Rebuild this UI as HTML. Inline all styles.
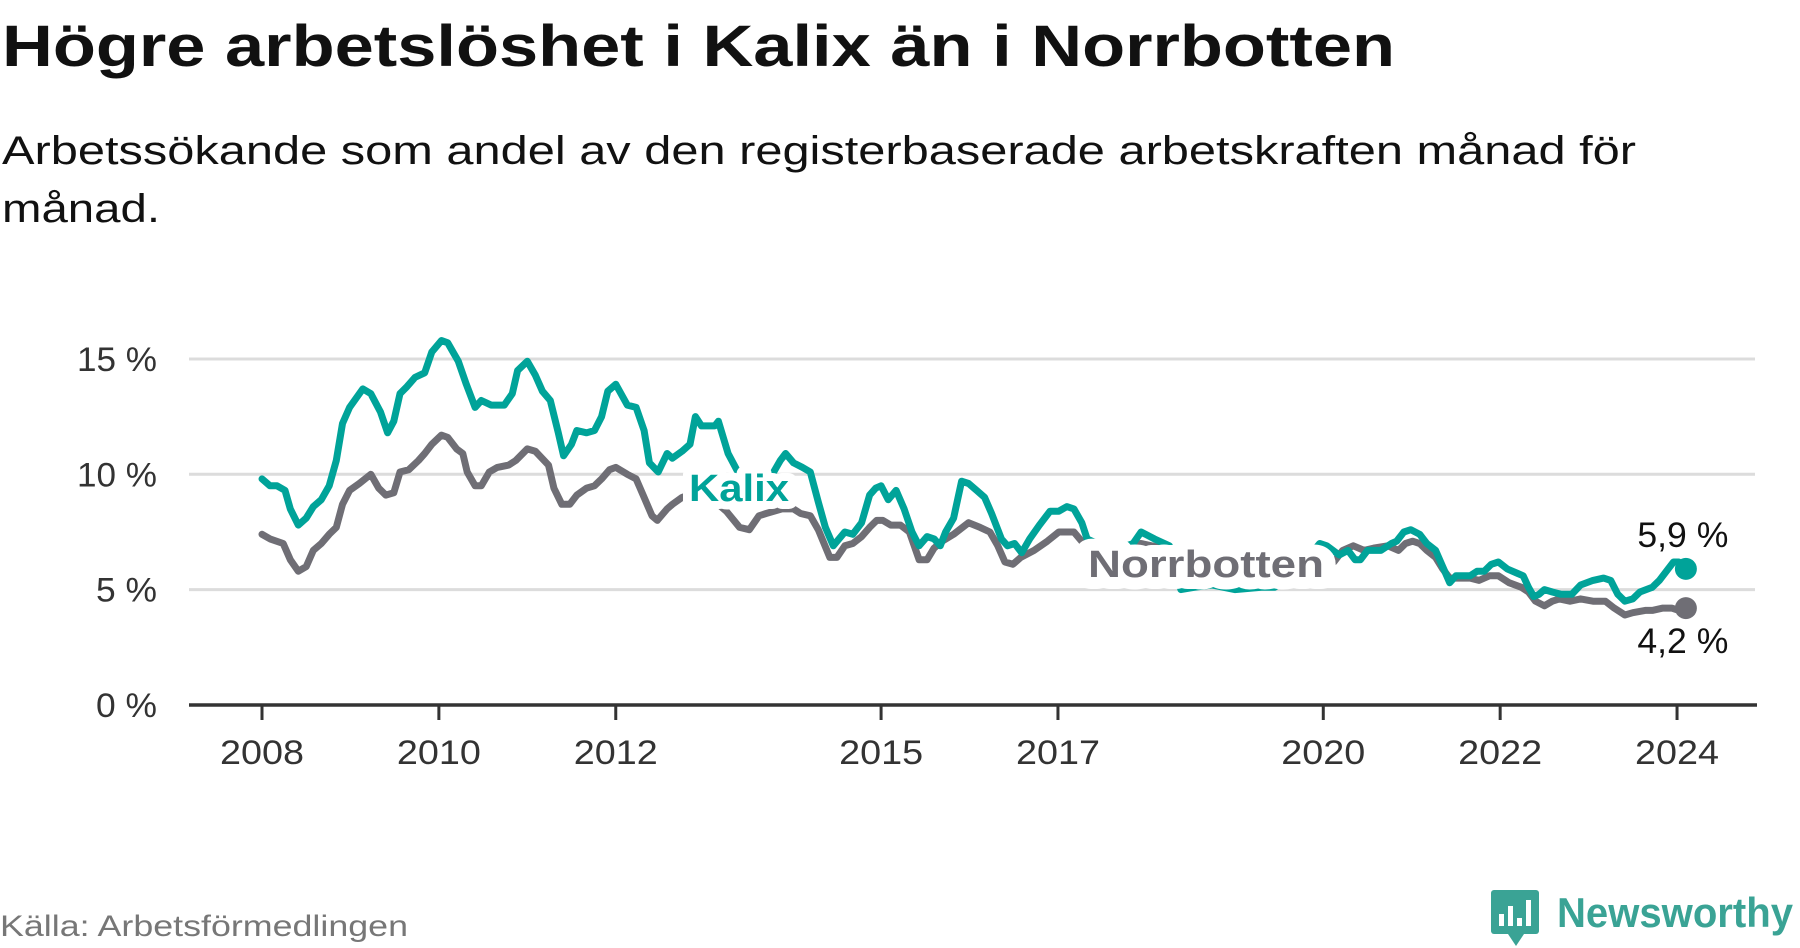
<!DOCTYPE html>
<html><head><meta charset="utf-8"><style>
html,body{margin:0;padding:0;background:#fff;}
svg{display:block;font-family:"Liberation Sans",sans-serif;}
</style></head><body>
<svg id="chart" width="1800" height="948" viewBox="0 0 1800 948" xmlns="http://www.w3.org/2000/svg">
<text x="2" y="66" font-size="58" font-weight="bold" fill="#111" textLength="1393" lengthAdjust="spacingAndGlyphs">Högre arbetslöshet i Kalix än i Norrbotten</text>
<text x="2" y="164" font-size="40" fill="#111" textLength="1634" lengthAdjust="spacingAndGlyphs">Arbetssökande som andel av den registerbaserade arbetskraften månad för</text>
<text x="2" y="222" font-size="40" fill="#111" textLength="158" lengthAdjust="spacingAndGlyphs">månad.</text>
<g id="grid"></g>
<g id="yticks"></g>
<g id="xticks"></g>
<g id="lines"></g>
<g id="labels"></g>
<text x="0" y="936" font-size="30" fill="#777" textLength="408" lengthAdjust="spacingAndGlyphs">Källa: Arbetsförmedlingen</text>
<g>
<rect x="1491" y="890" width="48" height="44" rx="3" fill="#3aa395"/>
<polygon points="1508,934 1524,934 1516,946" fill="#3aa395"/>
<rect x="1499" y="914" width="5" height="12" fill="#fff"/>
<rect x="1508" y="906" width="5" height="20" fill="#fff"/>
<rect x="1517" y="918" width="5" height="8" fill="#fff"/>
<rect x="1526" y="900" width="5" height="26" fill="#fff"/>
<text x="1557" y="927" font-size="42" font-weight="bold" fill="#3aa395" textLength="236" lengthAdjust="spacingAndGlyphs">Newsworthy</text>
</g>
</svg>
<script>
const yTicks = [0, 5, 10, 15];
const yTickLabels = ["0 %", "5 %", "10 %", "15 %"];
const xTicks = [2008, 2010, 2012, 2015, 2017, 2020, 2022, 2024];
const kalixDates = [2008.0,2008.09,2008.17,2008.26,2008.32,2008.41,2008.50,2008.58,2008.67,2008.76,2008.84,2008.91,2008.99,2009.14,2009.23,2009.34,2009.42,2009.49,2009.56,2009.64,2009.73,2009.84,2009.92,2010.03,2010.10,2010.22,2010.31,2010.41,2010.48,2010.59,2010.74,2010.83,2010.89,2011.00,2011.09,2011.17,2011.26,2011.35,2011.41,2011.50,2011.56,2011.67,2011.76,2011.84,2011.91,2012.00,2012.13,2012.23,2012.32,2012.38,2012.48,2012.58,2012.64,2012.75,2012.84,2012.90,2012.97,2013.12,2013.16,2013.27,2013.45,2013.65,2013.86,2013.92,2014.01,2014.11,2014.20,2014.29,2014.37,2014.46,2014.59,2014.68,2014.78,2014.87,2014.94,2015.00,2015.08,2015.17,2015.26,2015.35,2015.43,2015.52,2015.60,2015.67,2015.73,2015.82,2015.91,2015.99,2016.08,2016.17,2016.25,2016.36,2016.43,2016.51,2016.59,2016.68,2016.79,2016.91,2017.01,2017.10,2017.18,2017.27,2017.33,2017.5,2017.7,2017.85,2017.94,2018.09,2018.26,2018.39,2018.54,2018.74,2019.0,2019.30,2019.45,2019.7,2019.96,2020.04,2020.18,2020.28,2020.36,2020.42,2020.50,2020.65,2020.77,2020.83,2020.91,2020.99,2021.09,2021.17,2021.27,2021.35,2021.43,2021.50,2021.66,2021.74,2021.82,2021.90,2021.98,2022.08,2022.20,2022.26,2022.32,2022.38,2022.44,2022.50,2022.59,2022.69,2022.81,2022.91,2023.05,2023.17,2023.25,2023.33,2023.41,2023.50,2023.58,2023.72,2023.80,2023.90,2023.96,2024.02,2024.10];
const kalixValues = [9.8,9.5,9.5,9.3,8.5,7.8,8.1,8.6,8.9,9.5,10.6,12.2,12.9,13.7,13.5,12.7,11.8,12.3,13.5,13.8,14.2,14.4,15.3,15.8,15.7,14.9,13.9,12.9,13.2,13.0,13.0,13.5,14.5,14.9,14.3,13.6,13.2,11.8,10.8,11.3,11.9,11.8,11.9,12.5,13.6,13.9,13.0,12.9,11.9,10.5,10.1,10.9,10.7,11.0,11.3,12.5,12.1,12.1,12.3,10.9,9.6,9.2,10.6,10.9,10.5,10.3,10.1,8.8,7.7,6.9,7.5,7.4,7.9,9.1,9.4,9.5,8.9,9.3,8.5,7.5,6.9,7.3,7.2,6.9,7.5,8.1,9.7,9.6,9.3,9.0,8.3,7.2,6.9,7.0,6.6,7.2,7.8,8.4,8.4,8.6,8.5,7.9,7.2,6.9,6.8,7.0,7.5,7.2,6.9,5.0,5.1,5.2,5.0,5.1,5.1,5.8,7.0,6.9,6.5,6.7,6.3,6.3,6.7,6.7,7.0,7.1,7.5,7.6,7.4,7.0,6.7,6.0,5.3,5.6,5.6,5.8,5.8,6.1,6.2,5.9,5.7,5.6,5.1,4.7,4.8,5.0,4.9,4.8,4.8,5.2,5.4,5.5,5.4,4.8,4.5,4.6,4.9,5.1,5.4,5.9,6.2,6.2,5.9];
const norrDates = [2008.0,2008.09,2008.24,2008.32,2008.41,2008.50,2008.58,2008.67,2008.76,2008.84,2008.91,2008.99,2009.10,2009.23,2009.32,2009.40,2009.49,2009.56,2009.66,2009.77,2009.84,2009.92,2010.03,2010.10,2010.20,2010.27,2010.32,2010.41,2010.48,2010.57,2010.66,2010.79,2010.87,2011.00,2011.09,2011.24,2011.30,2011.39,2011.48,2011.56,2011.67,2011.76,2011.84,2011.93,2012.00,2012.13,2012.23,2012.32,2012.41,2012.47,2012.58,2012.64,2012.75,2012.9,2013.1,2013.25,2013.40,2013.51,2013.62,2013.70,2013.88,2014.01,2014.09,2014.20,2014.29,2014.42,2014.50,2014.59,2014.68,2014.78,2014.87,2014.95,2015.02,2015.11,2015.22,2015.32,2015.43,2015.52,2015.60,2015.69,2015.82,2015.99,2016.12,2016.23,2016.32,2016.40,2016.49,2016.58,2016.73,2016.88,2017.01,2017.18,2017.29,2017.5,2017.8,2017.94,2018.3,2018.6,2018.9,2019.2,2019.5,2019.8,2020.12,2020.22,2020.34,2020.46,2020.57,2020.73,2020.85,2020.93,2021.01,2021.09,2021.17,2021.27,2021.35,2021.43,2021.56,2021.66,2021.76,2021.88,2021.98,2022.10,2022.24,2022.32,2022.40,2022.50,2022.59,2022.67,2022.79,2022.91,2023.05,2023.19,2023.29,2023.41,2023.50,2023.64,2023.72,2023.84,2023.94,2024.02,2024.10];
const norrValues = [7.4,7.2,7.0,6.3,5.8,6.0,6.7,7.0,7.4,7.7,8.7,9.3,9.6,10.0,9.4,9.1,9.2,10.1,10.2,10.6,10.9,11.3,11.7,11.6,11.1,10.9,10.1,9.5,9.5,10.1,10.3,10.4,10.6,11.1,11.0,10.4,9.4,8.7,8.7,9.1,9.4,9.5,9.8,10.2,10.3,10.0,9.8,9.0,8.2,8.0,8.5,8.7,9.0,9.2,8.9,8.4,7.7,7.6,8.2,8.3,8.5,8.5,8.3,8.2,7.6,6.4,6.4,6.9,7.0,7.3,7.7,8.0,8.0,7.8,7.8,7.5,6.3,6.3,6.8,7.1,7.4,7.9,7.7,7.5,6.9,6.2,6.1,6.4,6.7,7.1,7.5,7.5,7.0,6.6,6.9,7.0,6.7,6.0,5.7,5.5,5.6,6.0,6.2,6.7,6.9,6.7,6.8,6.9,6.7,7.0,7.1,7.0,6.7,6.4,5.9,5.5,5.5,5.5,5.4,5.6,5.6,5.3,5.1,4.9,4.5,4.3,4.5,4.6,4.5,4.6,4.5,4.5,4.2,3.9,4.0,4.1,4.1,4.2,4.2,4.1,4.2];
const seriesNames = ["Kalix", "Norrbotten"];

const NS = "http://www.w3.org/2000/svg";
const X0 = 262, PX_PER_YEAR = 88.44, Y0 = 705, PX_PER_PCT = 23.07;
function xScale(year){ return X0 + (year - 2008) * PX_PER_YEAR; }
function yScale(v){ return Y0 - v * PX_PER_PCT; }
function mk(tag, attrs, parent){ const e = document.createElementNS(NS, tag); for (const k in attrs) e.setAttribute(k, attrs[k]); parent.appendChild(e); return e; }

const grid = document.getElementById('grid');
const yt = document.getElementById('yticks');
yTicks.forEach((t, i) => {
  if (t > 0) {
    const g = mk('line', {x1:189, x2:1755, y1:yScale(t), y2:yScale(t), stroke:'#dcdcdc', 'stroke-width':3}, grid);
    
    
  }
  const lab = yTickLabels[i];
  const tx = mk('text', {x:157, y:yScale(t)+12, 'text-anchor':'end', 'font-size':34, fill:'#333', textLength: lab.length === 4 ? 80 : 61, lengthAdjust:'spacingAndGlyphs'}, yt);
  
  
  tx.textContent = lab;
});
const xt = document.getElementById('xticks');
const axis = mk('line', {x1:189, x2:1757, y1:Y0, y2:Y0, stroke:'#333', 'stroke-width':3.5}, xt);


xTicks.forEach(yr => {
  const tk = mk('line', {x1:xScale(yr), x2:xScale(yr), y1:Y0, y2:Y0+15, stroke:'#333', 'stroke-width':3}, xt);
  
  
  const tl = mk('text', {x:xScale(yr), y:764, 'text-anchor':'middle', 'font-size':34, fill:'#333', textLength:84, lengthAdjust:'spacingAndGlyphs'}, xt);
  
  
  tl.textContent = yr;
});

const lines = document.getElementById('lines');
function drawSeries(dates, vals, color, name){
  const d = dates.map((t, i) => (i ? 'L' : 'M') + xScale(t).toFixed(1) + ',' + yScale(vals[i]).toFixed(1)).join(' ');
  const p = mk('path', {d:d, fill:'none', stroke:color, 'stroke-width':7, 'stroke-linejoin':'round', 'stroke-linecap':'round'}, lines);
  
  
  const n = dates.length - 1;
  const c = mk('circle', {cx:xScale(dates[n]), cy:yScale(vals[n]), r:11, fill:color}, lines);
  
  
}
drawSeries(norrDates, norrValues, '#6f6e75', 'norrbotten');
drawSeries(kalixDates, kalixValues, '#00a399', 'kalix');

const labels = document.getElementById('labels');
const kl = mk('text', {x:689, y:501, 'font-size':38, 'font-weight':'bold', fill:'#00a399', stroke:'#fff', 'stroke-width':16, 'paint-order':'stroke', 'stroke-linejoin':'round', textLength:100, lengthAdjust:'spacingAndGlyphs'}, labels);


kl.textContent = seriesNames[0];
const nl = mk('text', {x:1088, y:577, 'font-size':38, 'font-weight':'bold', fill:'#6f6e75', stroke:'#fff', 'stroke-width':24, 'paint-order':'stroke', 'stroke-linejoin':'round', textLength:236, lengthAdjust:'spacingAndGlyphs'}, labels);


nl.textContent = seriesNames[1];
const kn = kalixValues.length - 1, nn = norrValues.length - 1;
const kv = mk('text', {x:xScale(kalixDates[kn]) - 3, y:yScale(kalixValues[kn]) - 22, 'text-anchor':'middle', 'font-size':35, fill:'#111', stroke:'#fff', 'stroke-width':6, 'paint-order':'stroke', textLength:91, lengthAdjust:'spacingAndGlyphs'}, labels);


kv.textContent = kalixValues[kn].toFixed(1).replace('.', ',') + ' %';
const nv = mk('text', {x:xScale(norrDates[nn]) - 3, y:yScale(norrValues[nn]) + 45, 'text-anchor':'middle', 'font-size':35, fill:'#111', stroke:'#fff', 'stroke-width':6, 'paint-order':'stroke', textLength:91, lengthAdjust:'spacingAndGlyphs'}, labels);


nv.textContent = norrValues[nn].toFixed(1).replace('.', ',') + ' %';
</script>
</body></html>
